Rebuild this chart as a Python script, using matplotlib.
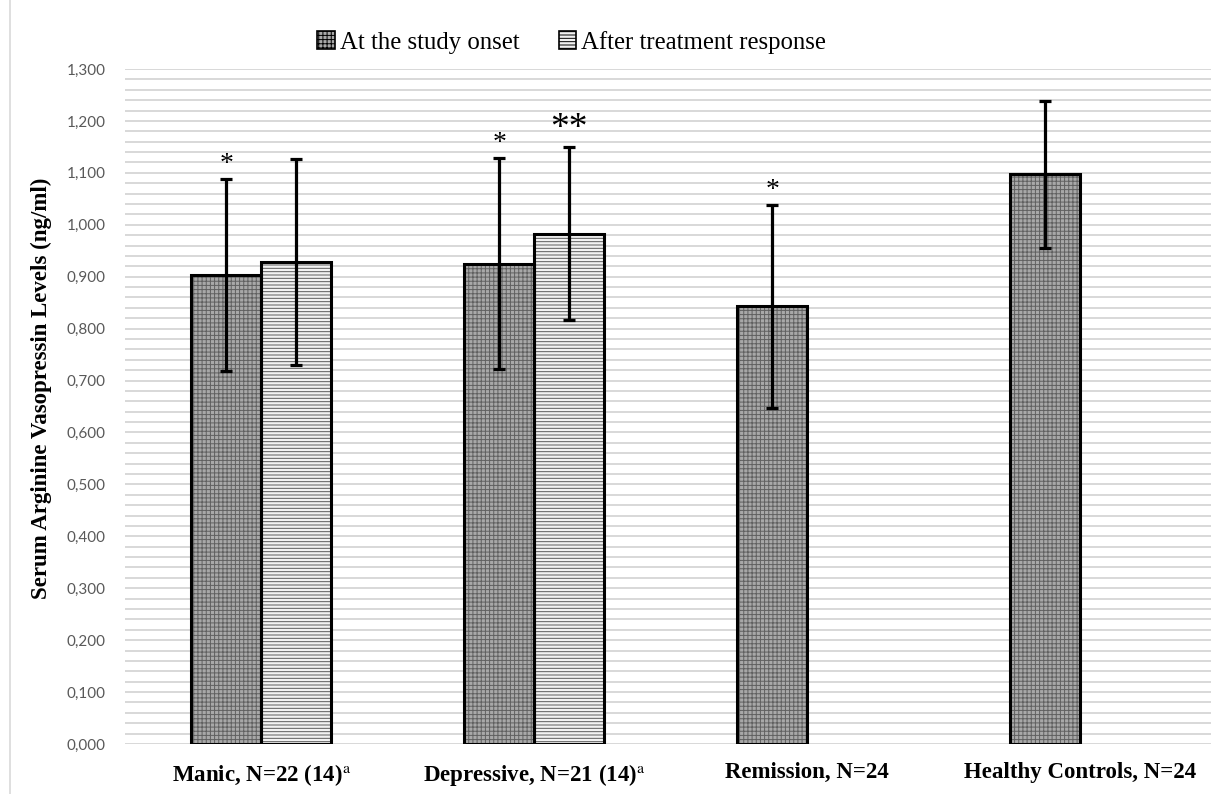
import matplotlib
matplotlib.use("Agg")
import matplotlib.pyplot as plt
from matplotlib.patches import Patch
from matplotlib.lines import Line2D
from matplotlib.ticker import MultipleLocator, FuncFormatter
import numpy as np

# values (ng/ml)
groups = ["Manic, N=22 (14)$^{\\mathrm{a}}$", "Depressive, N=21 (14)$^{\\mathrm{a}}$",
          "Remission, N=24", "Healthy Controls, N=24"]
onset_mean = [0.903, 0.925, 0.843, 1.097]
onset_sd = [0.185, 0.203, 0.195, 0.141]
after_idx = [0, 1]
after_mean = [0.928, 0.983]
after_sd = [0.198, 0.166]
onset_stars = ["*", "*", "*", ""]
after_stars = ["", "**"]
series_names = ["At the study onset", "After treatment response"]

plt.rcParams["hatch.linewidth"] = 0.7
plt.rcParams["mathtext.fontset"] = "stix"

fig = plt.figure(figsize=(12.11, 7.94), dpi=100)
ax = fig.add_axes([125 / 1211, 50 / 794, 1 - 125 / 1211, 675 / 794])

x = np.arange(len(groups))
w = 0.2565
x_on = x - w / 2
x_af = x[after_idx] + w / 2

# onset bars: fill + pattern, then black outline
ax.bar(x_on, onset_mean, w, color="#a8a8a8", hatch="++++", edgecolor="#606060", linewidth=0, zorder=2)
ax.bar(x_on, onset_mean, w, fill=False, edgecolor="black", linewidth=2.2, zorder=3)
ax.bar(x_af, after_mean, w, color="#f2f2f2", hatch="-----", edgecolor="#5a5a5a", linewidth=0, zorder=2)
ax.bar(x_af, after_mean, w, fill=False, edgecolor="black", linewidth=2.2, zorder=3)

ax.errorbar(x_on, onset_mean, yerr=onset_sd, fmt="none", ecolor="black", elinewidth=2.3,
            capsize=4.2, capthick=2.3, zorder=4)
ax.errorbar(x_af, after_mean, yerr=after_sd, fmt="none", ecolor="black", elinewidth=2.3,
            capsize=4.2, capthick=2.3, zorder=4)

for xi, m, s, st in zip(x_on, onset_mean, onset_sd, onset_stars):
    if st:
        ax.text(xi, m + s + 0.004, st, ha="center", va="bottom", fontsize=20,
                family="Liberation Serif", zorder=5)
for xi, m, s, st in zip(x_af, after_mean, after_sd, after_stars):
    if st:
        ax.text(xi, m + s + 0.002, st, ha="center", va="bottom", fontsize=27,
                family="Liberation Serif", zorder=5)

ax.set_ylim(0, 1.3)
ax.set_xlim(-0.5, 3.48)
ax.yaxis.set_major_locator(MultipleLocator(0.1))
ax.yaxis.set_minor_locator(MultipleLocator(0.02))
ax.yaxis.set_major_formatter(FuncFormatter(lambda v, p: f"{v:.3f}".replace(".", ",")))
ax.grid(True, which="both", axis="y", color="#d6d6d6", linewidth=1.3, zorder=0)
ax.set_axisbelow(True)
for sp in ax.spines.values():
    sp.set_visible(False)
ax.tick_params(axis="y", which="both", length=0, pad=14, labelsize=11, labelcolor="#595959")
ax.tick_params(axis="x", length=0, pad=13)
for lab in ax.get_yticklabels():
    lab.set_family("Lato")

ax.set_xticks(x)
ax.set_xticklabels(groups, fontsize=16.5, fontweight="bold", family="Liberation Serif")
ax.set_ylabel("Serum Arginine Vasopressin Levels (ng/ml)", fontsize=16.5, fontweight="bold",
              family="Liberation Serif")
ax.yaxis.set_label_coords(-0.067, 0.527)

handles = [Patch(facecolor="#a8a8a8", hatch="++++", edgecolor="black", linewidth=1.2),
           Patch(facecolor="#f2f2f2", hatch="-----", edgecolor="black", linewidth=1.2)]
fig.legend(handles, series_names, loc="center", bbox_to_anchor=(0.472, 0.947), ncol=2,
           frameon=False, prop={"family": "Liberation Serif", "size": 17.8},
           handlelength=0.7, handleheight=0.7, handletextpad=0.2, columnspacing=1.6)

fig.add_artist(Line2D([10 / 1211, 10 / 1211], [0, 1], color="#d9d9d9", linewidth=1.2))

fig.savefig("out.png", dpi=100)
